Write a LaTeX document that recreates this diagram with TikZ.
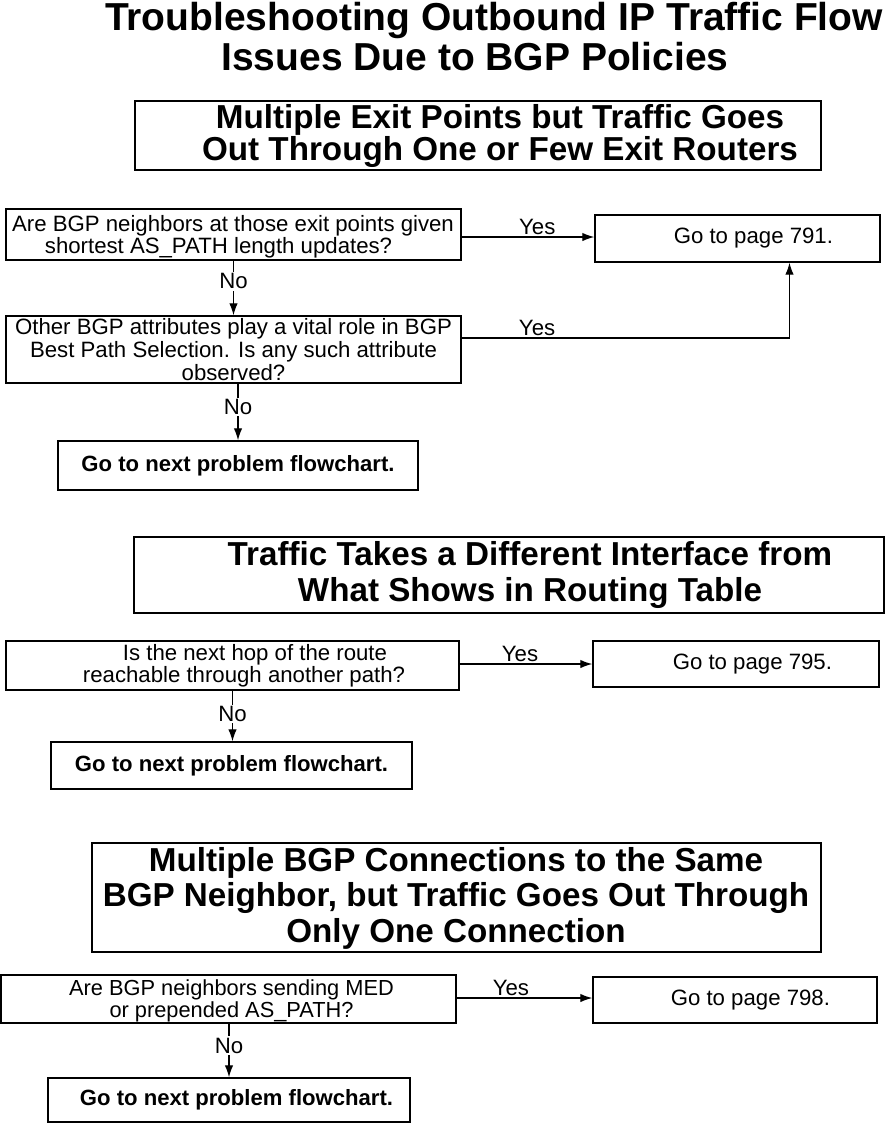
\documentclass[tikz,border=0pt]{standalone}
\usepackage{fontspec}
\setmainfont{Liberation Sans}
\usetikzlibrary{arrows.meta}
\begin{document}
\begin{tikzpicture}[x=1pt,y=-1pt,
  box/.style={draw, line width=1.4pt, inner sep=0pt, align=center},
  txt/.style={inner sep=0pt, align=center},
  ttl/.style={font=\fontsize{39}{38}\selectfont\bfseries, inner sep=0pt, align=center},
  hdr/.style={font=\fontsize{33.2}{32}\selectfont\bfseries, inner sep=0pt, align=center},
  body/.style={font=\fontsize{22.2}{#1}\selectfont},
  body/.default=19,
  nxt/.style={box, font=\fontsize{22.1}{19}\selectfont\bfseries},
  gobox/.style={box, font=\fontsize{22.2}{19}\selectfont, inner xsep=47pt, align=flush right},
  lbl/.style={font=\fontsize{22.2}{19}\selectfont, inner sep=1.5pt},
  arr/.style={line width=1.3pt, -{Latex[length=12pt,width=8.5pt]}}
]
\useasboundingbox (0,0) rectangle (885,1125);

% Title
\node[ttl] (t1) at (494,20) {Troubleshooting Outbound IP Traffic Flow};
\node[ttl] (t2) at (475,57) {Issues Due to BGP Policies};

% Section 1
\node[box, minimum width=686pt, minimum height=69pt] (h1) at (478,135.5) {};
\node[hdr] (h1t) at (500,136) {Multiple Exit Points but Traffic Goes\\Out Through One or Few Exit Routers};

\node[box, minimum width=455pt, minimum height=51pt] (q1) at (233.5,234.5) {};
\node[txt, body=18] (q1t) at (233,237)
  {Are BGP neighbors at those exit points given\\shortest AS\_PATH length updates?\hspace*{29pt}\null};
\node[gobox, minimum width=285pt, minimum height=47pt, text width=191pt] (go1) at (737.5,238.5) {Go to page 791.};
\node[box, body=23, minimum width=455pt, minimum height=67pt] (q2) at (233.5,349.5)
  {Other BGP attributes play a vital role in BGP\\Best Path Selection. Is any such attribute\\observed?};
\node[nxt, minimum width=360pt, minimum height=49pt] (n1) at (238,465.5) {Go to next problem flowchart.};

\draw[arr] ([yshift=1.5pt]go1.west -| q1.east) -- node[lbl, above, pos=0.57] {Yes} ([yshift=1.5pt]go1.west);
\draw[arr] (q1.south) -- node[lbl, fill=white, pos=0.38] {No} (q2.north);
\draw[arr] ([yshift=11.5pt]q2.east) -| node[lbl, above, pos=0.115] {Yes} ([xshift=52pt]go1.south);
\draw[arr] (q2.south -| n1.north) -- node[lbl, fill=white, pos=0.41] {No} (n1.north);

% Section 2
\node[box, minimum width=750pt, minimum height=76pt] (h2) at (509,575) {};
\node[hdr, font=\fontsize{33.2}{36}\selectfont\bfseries] (h2t) at (530,575) {Traffic Takes a Different Interface from\\What Shows in Routing Table};

\node[box, body=19, minimum width=453pt, minimum height=49pt] (q3) at (232.5,665.5)
  {\hspace*{45pt}Is the next hop of the route\\\hspace*{23pt}reachable through another path?};
\node[gobox, minimum width=286pt, minimum height=46pt, text width=192pt] (go2) at (736,664) {Go to page 795.};
\node[nxt, minimum width=361pt, minimum height=47pt] (n2) at (231.5,765.5) {Go to next problem flowchart.};

\draw[arr] (q3.east |- go2.west) -- node[lbl, above, pos=0.455] {Yes} (go2.west);
\draw[arr] (q3.south) -- node[lbl, fill=white, pos=0.46] {No} (q3.south |- n2.north);

% Section 3
\node[box, minimum width=729pt, minimum height=109pt] (h3) at (456.5,897.5) {};
\node[hdr, font=\fontsize{33.2}{35.5}\selectfont\bfseries] (h3t) at (456,898) {Multiple BGP Connections to the Same\\BGP Neighbor, but Traffic Goes Out Through\\Only One Connection};

\node[box, minimum width=455pt, minimum height=48pt] (q4) at (228.5,999) {};
\node[txt, font=\fontsize{21.8}{22}\selectfont] (q4t) at (231.5,1001)
  {Are BGP neighbors sending MED\\or prepended AS\_PATH?};
\node[gobox, minimum width=284pt, minimum height=46pt, text width=190pt] (go3) at (735,1000) {Go to page 798.};
\node[nxt, minimum width=362pt, minimum height=44pt] (n3) at (229,1100) {\hspace*{15pt}Go to next problem flowchart.};

\draw[arr] ([yshift=2pt]go3.west -| q4.east) -- node[lbl, above, pos=0.4] {Yes} ([yshift=2pt]go3.west);
\draw[arr] (q4.south -| n3.north) -- node[lbl, fill=white, pos=0.41] {No} (n3.north);
\end{tikzpicture}
\end{document}
